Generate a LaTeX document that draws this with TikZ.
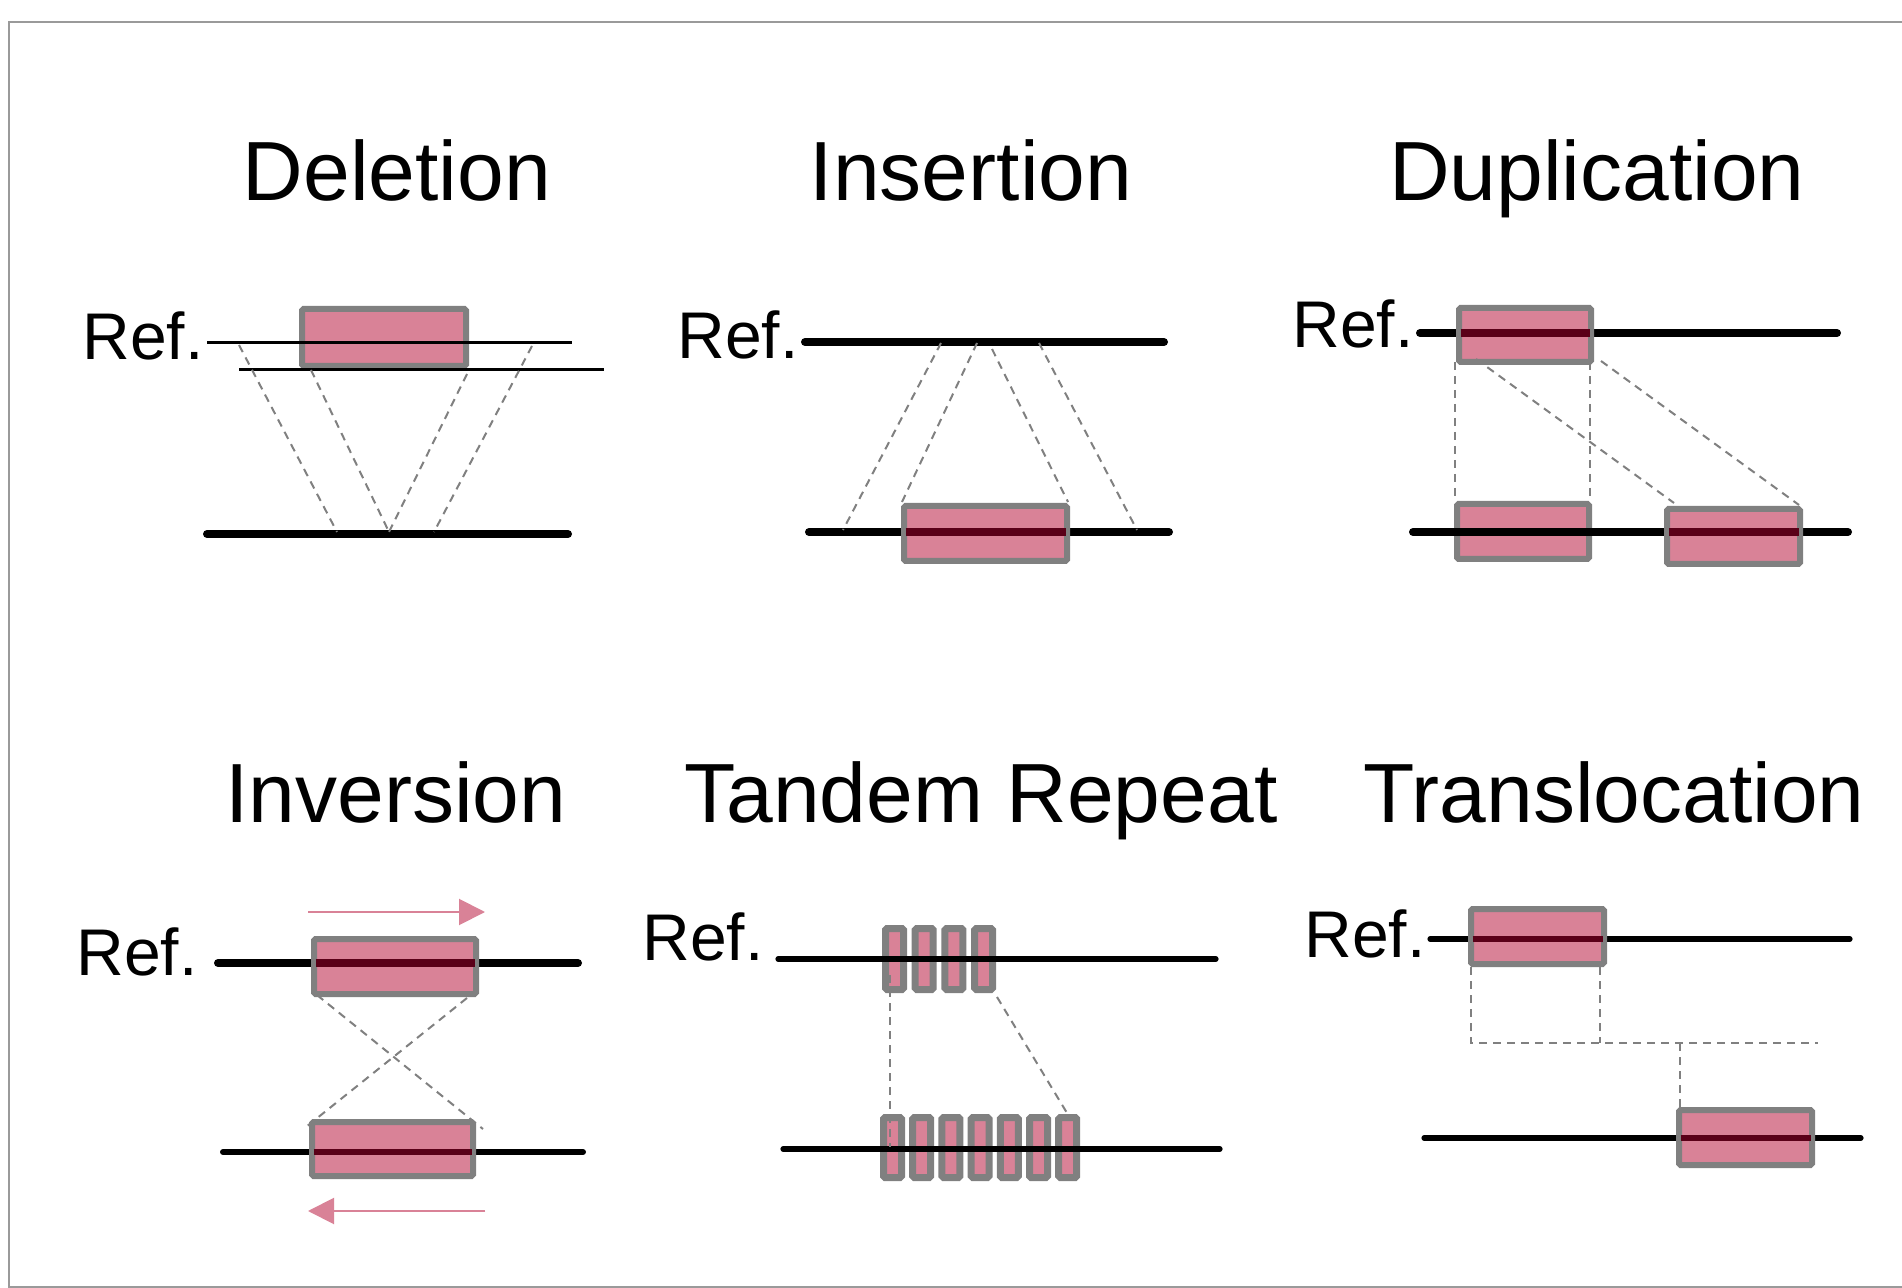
\documentclass[tikz,border=0pt]{standalone}
\usepackage{fontspec}
\setmainfont{Liberation Sans}
\usetikzlibrary{arrows.meta}
\definecolor{pinkfill}{HTML}{D98297}
\definecolor{boxgray}{HTML}{808080}
\definecolor{darkred}{HTML}{5A0018}
\definecolor{framegray}{HTML}{9A9A9A}
\begin{document}
\begin{tikzpicture}[x=0.5pt,y=-0.5pt,
  title/.style={font=\fontsize{42}{50}\selectfont, anchor=base, inner sep=0pt},
  reflabel/.style={font=\fontsize{33}{40}\selectfont, anchor=base west, inner sep=0pt},
  thickline/.style={line width=4pt, line cap=round},
  medline/.style={line width=2.6pt, line cap=round},
  thinline/.style={line width=1.5pt},
  sbox/.style={fill=pinkfill, draw=boxgray, line width=3pt, rounded corners=0.8pt},
  tbox/.style={sbox, line width=3.5pt},
  darkline/.style={draw=darkred, line width=4pt},
  dashline/.style={draw=boxgray, line width=1pt, dash pattern=on 4pt off 3pt},
  pinkarrow/.style={draw=pinkfill, fill=pinkfill, line width=1pt, -{Triangle[length=13pt,width=13pt]}}
]
\useasboundingbox (0,0) rectangle (1902,1288);
\fill[white] (0,0) rectangle (1902,1288);
\draw[framegray, line width=1.2pt] (1902,22) -- (9,22) -- (9,1287) -- (1902,1287);

% Titles
\node[title] (tdel) at (397,201) {Deletion};
\node[title] (tins) at (971,201) {Insertion};
\node[title] (tdup) at (1597,201) {Duplication};
\node[title] (tinv) at (396,822) {Inversion};
\node[title] (ttan) at (981,822) {Tandem Repeat};
\node[title] (ttra) at (1614,822) {Translocation};

% Ref labels
\node[reflabel] (rdel) at (82,360) {Ref.};
\node[reflabel] (rins) at (677,359) {Ref.};
\node[reflabel] (rdup) at (1292,348) {Ref.};
\node[reflabel] (rinv) at (76,975) {Ref.};
\node[reflabel] (rtan) at (642,960) {Ref.};
\node[reflabel] (rtra) at (1304,957) {Ref.};

% Deletion
\draw[sbox] (302,309) rectangle (466,366);
\draw[thinline] (207,343) -- (572,343);
\draw[thinline] (239,370) -- (604,370);
\draw[thickline] (207,534) -- (568,534);
\draw[dashline] (239,345) -- (337,532);
\draw[dashline] (311,370) -- (389,532);
\draw[dashline] (467,374) -- (389,532);
\draw[dashline] (532,346) -- (434,532);

% Insertion
\draw[thickline] (805,342) -- (1164,342);
\draw[thickline] (809,532) -- (1169,532);
\draw[sbox] (904,506) rectangle (1067,561);
\draw[darkline] (905.5,532) -- (1065.5,532);
\draw[dashline] (941,343) -- (843,530);
\draw[dashline] (977,343) -- (902,502);
\draw[dashline] (992,349) -- (1068,502);
\draw[dashline] (1039,343) -- (1137,530);

% Duplication
\draw[thickline] (1420,333) -- (1837,333);
\draw[sbox] (1459,308) rectangle (1591,362);
\draw[darkline] (1460.5,333) -- (1589.5,333);
\draw[sbox] (1457,504) rectangle (1589,559);
\draw[thickline] (1413,532) -- (1848,532);
\draw[sbox] (1667,509) rectangle (1800,564);
\draw[darkline] (1668.5,532) -- (1798.5,532);
\draw[dashline] (1455,362) -- (1455,500);
\draw[dashline] (1590,362) -- (1590,500);
\draw[dashline] (1476,359) -- (1674,503);
\draw[dashline] (1601,361) -- (1799,505);

% Inversion
\draw[pinkarrow] (308,912) -- (485,912);
\draw[thickline] (218,963) -- (578,963);
\draw[sbox] (314,939) rectangle (476,994);
\draw[darkline] (315.5,963) -- (474.5,963);
\draw[line width=3pt, line cap=round] (223,1152) -- (583,1152);
\draw[sbox] (312,1122) rectangle (473,1176);
\draw[darkline, line width=3pt] (313.5,1152) -- (471.5,1152);
\draw[dashline] (317,995) -- (483,1129);
\draw[dashline] (467,998) -- (306,1127);
\draw[pinkarrow] (485,1211) -- (308,1211);

% Tandem Repeat
\foreach \i in {0,...,3}{
  \draw[tbox] ({885.5+29.7*\i},928.5) rectangle ({903.5+29.7*\i},989.5);
}
\draw[medline] (778,959) -- (1216,959);
\foreach \i in {0,...,6}{
  \draw[tbox] ({883.5+29.2*\i},1117.5) rectangle ({901.5+29.2*\i},1177.5);
}
\draw[medline] (783,1149) -- (1220,1149);
\draw[dashline] (890,975) -- (890,1147);
\draw[dashline] (997,997) -- (1067,1113);

% Translocation
\draw[medline] (1430,939) -- (1850,939);
\draw[sbox] (1471,909) rectangle (1604,964);
\draw[darkline, line width=3pt] (1472.5,939) -- (1602.5,939);
\draw[medline] (1424,1138) -- (1861,1138);
\draw[sbox] (1679,1110) rectangle (1812,1165);
\draw[darkline, line width=3pt] (1680.5,1138) -- (1810.5,1138);
\coordinate (tc1) at (1471,967);
\coordinate (tc2) at (1471,1043);
\coordinate (tc3) at (1818,1043);
\draw[dashline] (tc1) -- (tc2) -- (tc3);
\draw[dashline] (1600,967) -- (1600,1043);
\draw[dashline] (1680,1043) -- (1680,1107);
\end{tikzpicture}
\end{document}
